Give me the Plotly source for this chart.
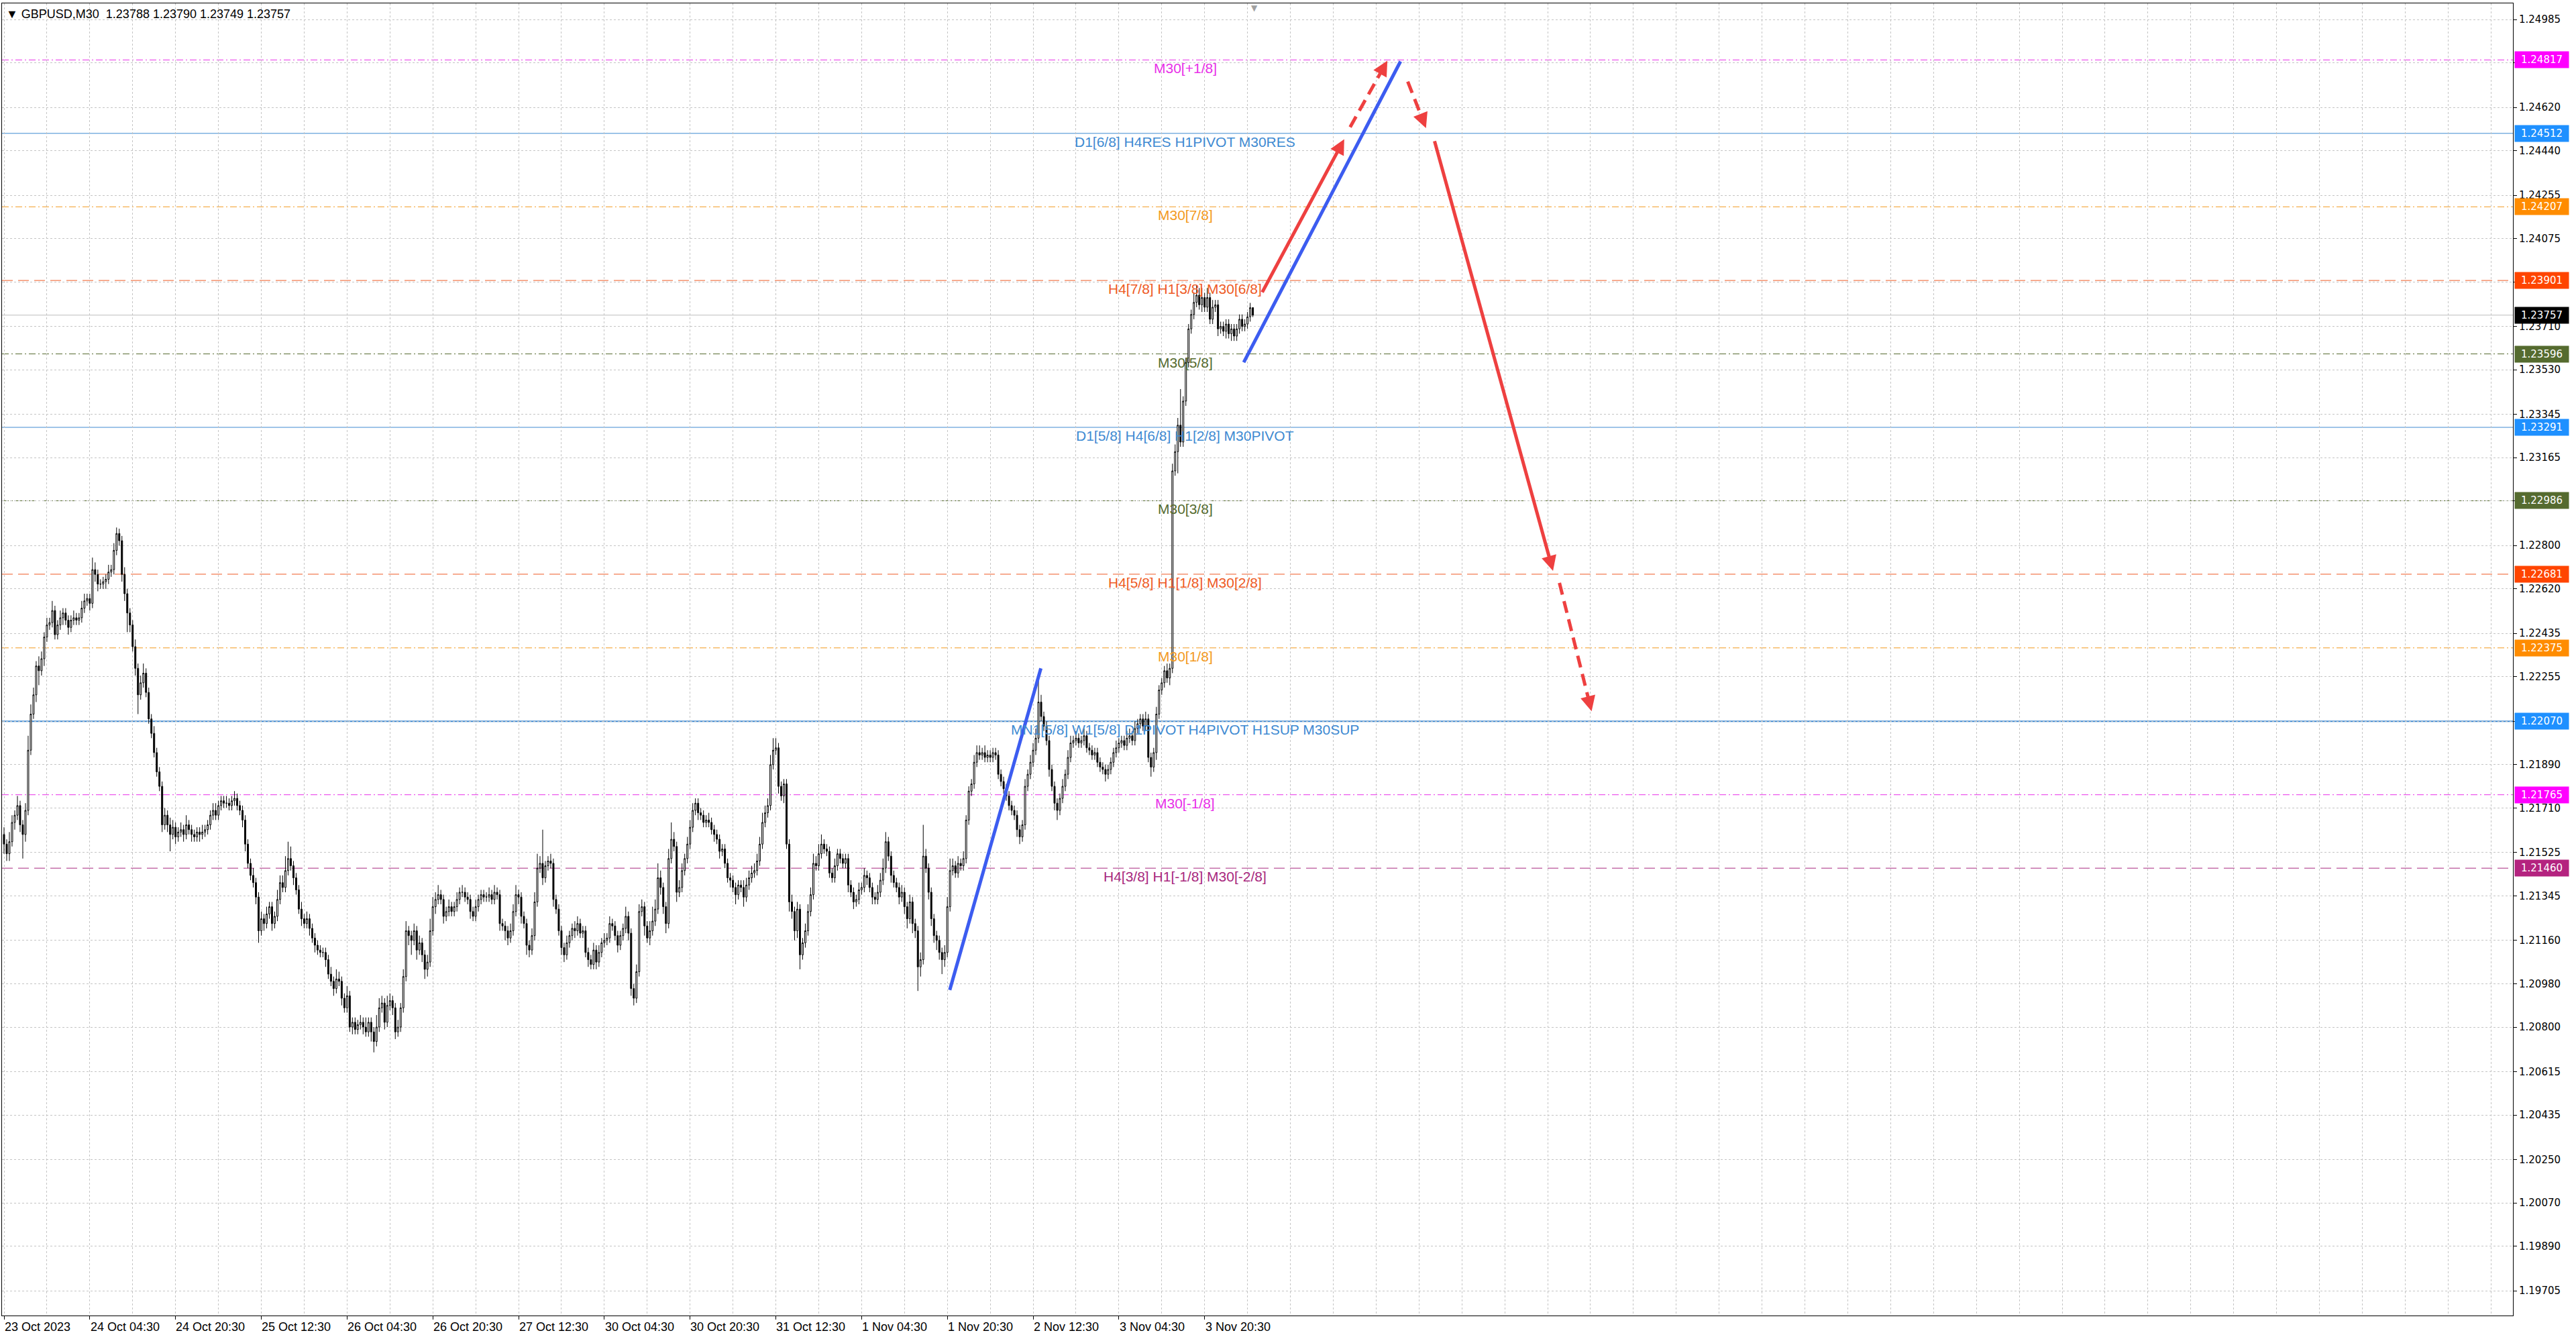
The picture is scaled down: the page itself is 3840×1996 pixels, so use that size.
import plotly.graph_objects as go

# GBPUSD M30 closes, in points (1e-5) above 1.0 ; open of a bar = close of the bar before
first_open = 21600
closes = [
    21560, 21520, 21570, 21650, 21680, 21720, 21640, 21600, 21700, 21950,
    22100, 22180, 22300, 22280, 22330, 22420, 22470, 22480, 22530, 22430,
    22470, 22500, 22520, 22490, 22460, 22490, 22500, 22490, 22500, 22540,
    22570, 22580, 22560, 22700, 22680, 22640, 22640, 22650, 22660, 22690,
    22700, 22780, 22850, 22820, 22680, 22600, 22520, 22470, 22380, 22290,
    22180, 22230, 22270, 22190, 22080, 22020, 21940, 21860, 21800, 21640,
    21680, 21640, 21600, 21630, 21590, 21610, 21620, 21600, 21640, 21620,
    21600, 21590, 21610, 21600, 21610, 21620, 21640, 21680, 21700, 21680,
    21720, 21740, 21730, 21730, 21720, 21740, 21750, 21720, 21700, 21660,
    21560, 21480, 21430, 21400, 21340, 21200, 21250, 21230, 21270, 21300,
    21230, 21260, 21330, 21400, 21380, 21450, 21500, 21470, 21420, 21370,
    21290, 21250, 21230, 21250, 21210, 21170, 21140, 21120, 21110, 21110,
    21080, 21020, 20990, 20960, 21000, 20990, 20920, 20880, 20930, 20800,
    20820, 20790, 20810, 20820, 20800, 20780, 20820, 20780, 20740, 20800,
    20880, 20900, 20820, 20890, 20910, 20880, 20780, 20800, 20880, 21010,
    21200, 21180, 21160, 21200, 21120, 21150, 21100, 21040, 21070, 21200,
    21300, 21330, 21350, 21330, 21260, 21280, 21300, 21280, 21300, 21330,
    21360, 21360, 21340, 21330, 21280, 21260, 21300, 21330, 21350, 21340,
    21340, 21350, 21330, 21360, 21350, 21230, 21220, 21200, 21170, 21200,
    21280, 21350, 21340, 21260, 21230, 21140, 21120, 21180, 21320, 21460,
    21480, 21420, 21470, 21490, 21480, 21330, 21290, 21200, 21130, 21100,
    21150, 21180, 21210, 21200, 21230, 21190, 21200, 21110, 21080, 21060,
    21120, 21070, 21110, 21150, 21160, 21170, 21230, 21220, 21180, 21140,
    21180, 21210, 21260, 21190, 20960, 20920, 21030, 21280, 21300, 21220,
    21170, 21200, 21240, 21290, 21420, 21380, 21300, 21230, 21500, 21580,
    21550, 21360, 21380, 21450, 21500, 21560, 21630, 21700, 21730, 21690,
    21680, 21650, 21660, 21650, 21620, 21600, 21580, 21530, 21540, 21480,
    21420, 21410, 21380, 21350, 21390, 21380, 21340, 21390, 21420, 21440,
    21450, 21490, 21560, 21650, 21690, 21720, 21890, 21950, 21960, 21800,
    21760, 21810, 21560, 21320, 21280, 21200, 21290, 21100, 21150, 21200,
    21280, 21350, 21480, 21470, 21520, 21560, 21540, 21530, 21440, 21420,
    21470, 21520, 21500, 21480, 21500, 21390, 21360, 21320, 21330, 21370,
    21380, 21430, 21420, 21380, 21340, 21330, 21360, 21410, 21460, 21570,
    21510, 21430, 21400, 21380, 21340, 21360, 21300, 21250, 21320, 21230,
    21200, 21050, 21080, 21510, 21460, 21360, 21250, 21180, 21160, 21110,
    21080, 21110, 21300, 21450, 21470, 21440, 21480, 21470, 21500, 21660,
    21780, 21810, 21900, 21940, 21930, 21940, 21920, 21930, 21920, 21940,
    21930, 21850, 21820, 21790, 21760, 21720, 21700, 21680, 21620, 21590,
    21640, 21800, 21850, 21900, 21950, 22000, 22150, 22090, 22050, 21990,
    21870, 21800, 21730, 21700, 21750, 21800, 21850, 21920, 21980, 21990,
    22000, 21980, 21990, 22010, 21960, 21950, 21930, 21940, 21900, 21880,
    21870, 21850, 21870, 21900, 21940, 21960, 21980, 21990, 21970, 22000,
    22010, 21990, 22040, 22060, 22080, 22050, 22080, 21920, 21880, 21940,
    22100, 22200, 22230, 22280, 22250, 22290, 23110, 23190, 23300, 23230,
    23400, 23560, 23700, 23760, 23810, 23840, 23800, 23830, 23790, 23830,
    23740, 23790, 23800, 23700, 23710, 23690, 23720, 23680, 23700, 23670,
    23700, 23740, 23710, 23720, 23750, 23788, 23757,
]
# wick lengths (points) above the body top and below the body bottom
up_wicks = [
    30, 20, 40, 30, 20, 40, 20, 20, 30, 60,
    40, 30, 20, 40, 30, 20, 30, 20, 40, 20,
    20, 30, 20, 20, 20, 20, 30, 20, 20, 30,
    30, 20, 20, 50, 30, 20, 20, 20, 20, 30,
    20, 30, 25, 20, 20, 30, 20, 20, 20, 30,
    20, 30, 40, 20, 20, 20, 30, 20, 20, 20,
    30, 20, 30, 30, 20, 20, 30, 20, 40, 20,
    20, 20, 20, 20, 30, 20, 20, 20, 30, 30,
    20, 20, 20, 30, 20, 20, 30, 20, 20, 20,
    20, 20, 20, 30, 20, 20, 30, 20, 30, 20,
    20, 20, 40, 30, 30, 60, 70, 50, 20, 20,
    20, 30, 20, 30, 20, 20, 20, 20, 20, 20,
    20, 20, 30, 20, 40, 30, 20, 20, 40, 20,
    20, 20, 20, 30, 20, 40, 20, 20, 20, 50,
    40, 30, 20, 40, 30, 20, 20, 30, 20, 30,
    40, 20, 20, 30, 20, 30, 20, 20, 30, 50,
    40, 30, 40, 20, 20, 20, 30, 20, 20, 30,
    20, 30, 20, 20, 20, 20, 30, 20, 20, 20,
    20, 30, 20, 30, 20, 20, 20, 20, 20, 30,
    30, 40, 20, 20, 20, 20, 20, 30, 40, 60,
    30, 140, 20, 20, 30, 20, 20, 20, 20, 20,
    30, 20, 20, 30, 30, 20, 20, 20, 20, 20,
    30, 20, 30, 20, 30, 20, 30, 20, 20, 20,
    20, 20, 40, 20, 20, 20, 30, 30, 30, 20,
    20, 40, 60, 40, 60, 30, 20, 20, 40, 70,
    30, 20, 30, 30, 20, 30, 30, 30, 20, 20,
    20, 20, 20, 30, 20, 20, 20, 20, 20, 20,
    20, 20, 20, 20, 20, 20, 30, 30, 30, 30,
    30, 30, 30, 40, 30, 30, 40, 50, 40, 20,
    20, 20, 20, 20, 30, 20, 30, 20, 20, 30,
    30, 30, 40, 30, 40, 40, 20, 20, 20, 20,
    30, 20, 20, 20, 20, 20, 20, 20, 20, 30,
    20, 30, 20, 20, 20, 20, 30, 30, 40, 40,
    20, 20, 20, 20, 20, 30, 20, 20, 30, 20,
    20, 20, 30, 130, 30, 20, 20, 20, 20, 20,
    20, 30, 40, 50, 30, 20, 30, 20, 30, 20,
    20, 20, 30, 30, 30, 20, 30, 20, 20, 20,
    20, 20, 20, 20, 20, 20, 20, 20, 20, 20,
    20, 30, 20, 30, 30, 40, 100, 30, 20, 20,
    20, 20, 20, 20, 20, 30, 20, 30, 30, 20,
    30, 20, 20, 30, 20, 20, 20, 20, 20, 20,
    20, 20, 20, 20, 20, 30, 20, 20, 20, 30,
    30, 20, 30, 20, 20, 20, 30, 20, 20, 20,
    30, 20, 20, 20, 30, 20, 30, 30, 30, 150,
    20, 20, 20, 20, 40, 40, 30, 40, 20, 40,
    20, 30, 20, 20, 20, 20, 20, 20, 20, 20,
    20, 20, 20, 20, 20, 20, 2,
]
down_wicks = [
    40, 30, 30, 20, 30, 20, 30, 100, 30, 20,
    20, 20, 30, 60, 20, 30, 20, 20, 20, 20,
    20, 20, 30, 20, 30, 20, 20, 20, 20, 20,
    20, 20, 30, 20, 30, 30, 20, 20, 30, 20,
    20, 20, 20, 20, 30, 30, 80, 30, 20, 30,
    80, 20, 20, 20, 20, 20, 20, 20, 20, 30,
    20, 30, 70, 20, 30, 20, 20, 30, 20, 20,
    30, 20, 20, 30, 20, 20, 20, 20, 20, 20,
    20, 20, 20, 20, 20, 20, 20, 20, 20, 30,
    30, 20, 20, 20, 30, 50, 20, 30, 20, 20,
    30, 20, 20, 20, 20, 20, 20, 20, 30, 20,
    20, 30, 20, 20, 30, 20, 30, 20, 20, 20,
    30, 20, 20, 30, 20, 20, 30, 20, 20, 20,
    30, 20, 20, 20, 30, 20, 20, 40, 45, 20,
    20, 20, 30, 20, 20, 30, 30, 20, 20, 20,
    20, 40, 60, 20, 40, 20, 30, 40, 30, 20,
    20, 30, 20, 20, 30, 20, 20, 20, 20, 20,
    20, 20, 20, 20, 30, 20, 20, 20, 20, 20,
    20, 20, 20, 20, 20, 30, 20, 40, 30, 20,
    20, 20, 30, 30, 20, 40, 30, 20, 20, 20,
    20, 30, 20, 20, 20, 30, 20, 20, 30, 30,
    20, 20, 20, 30, 20, 20, 20, 20, 30, 20,
    20, 30, 20, 20, 20, 20, 20, 20, 20, 30,
    20, 20, 20, 30, 30, 30, 20, 20, 20, 40,
    20, 30, 20, 20, 20, 30, 30, 40, 20, 20,
    20, 40, 20, 20, 20, 20, 20, 20, 20, 30,
    20, 20, 20, 20, 20, 30, 20, 30, 20, 20,
    20, 30, 20, 40, 20, 20, 40, 20, 20, 20,
    20, 20, 20, 20, 20, 20, 20, 20, 20, 30,
    20, 30, 20, 40, 30, 40, 30, 60, 20, 20,
    20, 20, 20, 20, 20, 20, 20, 20, 20, 20,
    20, 20, 20, 20, 20, 30, 20, 30, 20, 20,
    20, 20, 30, 20, 30, 20, 20, 20, 20, 20,
    20, 30, 20, 20, 30, 20, 30, 40, 20, 40,
    30, 100, 40, 20, 20, 30, 30, 30, 40, 30,
    60, 30, 20, 20, 20, 20, 20, 20, 20, 20,
    20, 20, 20, 20, 20, 20, 20, 20, 20, 20,
    20, 20, 20, 20, 20, 20, 20, 20, 30, 30,
    20, 20, 20, 20, 20, 20, 20, 20, 20, 20,
    30, 20, 30, 40, 20, 20, 20, 20, 20, 20,
    20, 20, 20, 20, 20, 20, 20, 20, 20, 20,
    20, 30, 20, 20, 20, 20, 20, 20, 20, 20,
    20, 20, 20, 20, 20, 20, 20, 20, 40, 20,
    30, 20, 20, 20, 20, 30, 20, 20, 90, 20,
    20, 20, 20, 20, 20, 20, 20, 30, 20, 20,
    20, 20, 20, 30, 20, 20, 30, 20, 30, 20,
    20, 20, 20, 20, 20, 20, 8,
]

date_bars = [0, 32, 64, 96, 128, 160, 192, 224, 256, 288, 320, 352, 384, 416, 448]
date_labels = ["23 Oct 2023", "24 Oct 04:30", "24 Oct 20:30", "25 Oct 12:30", "26 Oct 04:30",
               "26 Oct 20:30", "27 Oct 12:30", "30 Oct 04:30", "30 Oct 20:30", "31 Oct 12:30",
               "1 Nov 04:30", "1 Nov 20:30", "2 Nov 12:30", "3 Nov 04:30", "3 Nov 20:30"]

price_ticks = [1.24985, 1.24805, 1.24620, 1.24440, 1.24255, 1.24075, 1.23895, 1.23710, 1.23530,
               1.23345, 1.23165, 1.22985, 1.22800, 1.22620, 1.22435, 1.22255, 1.22070, 1.21890,
               1.21710, 1.21525, 1.21345, 1.21160, 1.20980, 1.20800, 1.20615, 1.20435, 1.20250,
               1.20070, 1.19890, 1.19705]
hidden_ticks = [1.24805, 1.23895, 1.22985, 1.22070]   # covered by the level boxes

level_prices = [1.24817, 1.24512, 1.24207, 1.23901, 1.23596, 1.23291, 1.22986, 1.22681,
                1.22375, 1.22070, 1.21765, 1.21460]
level_texts = ["M30[+1/8]", "D1[6/8] H4RES H1PIVOT M30RES", "M30[7/8]", "H4[7/8] H1[3/8] M30[6/8]",
               "M30[5/8]", "D1[5/8] H4[6/8] H1[2/8] M30PIVOT", "M30[3/8]", "H4[5/8] H1[1/8] M30[2/8]",
               "M30[1/8]", "MN1[5/8] W1[5/8] D1PIVOT H4PIVOT H1SUP M30SUP", "M30[-1/8]",
               "H4[3/8] H1[-1/8] M30[-2/8]"]
level_kinds = ["mag", "blue", "orange", "red", "olive", "blue", "olive", "red",
               "orange", "blue_main", "mag", "violet"]
last_price = 1.23757
title_text = "▼ GBPUSD,M30\u00a0\u00a01.23788 1.23790 1.23749 1.23757"

# hand drawn forecast strokes: (bar, price) start -> end
blue_x = [[352.9, 386.9], [462.6, 521.1]]
blue_y = [[1.20954, 1.22290], [1.23561, 1.24811]]
red_x = [[469.5, 500.1], [502.3, 516.2], [523.8, 530.6], [533.8, 578.0], [580.4, 592.4]]
red_y = [[1.23852, 1.24488], [1.24538, 1.24814], [1.24727, 1.24534], [1.24480, 1.22695], [1.22645, 1.22112]]
red_dashed = [False, True, True, False, True]

# styles
kind_style = {
    "mag":       dict(line="#E830E8", box="#FF00FF", dash="10px,4px,2px,4px", width=1),
    "blue":      dict(line="#3E8AD2", box="#1E90FF", dash="solid", width=1),
    "blue_main": dict(line="#3E8AD2", box="#1E90FF", dash="solid", width=2),
    "orange":    dict(line="#F39A1E", box="#FF8C00", dash="10px,4px,2px,4px", width=1),
    "red":       dict(line="#EE5A24", box="#FF4500", dash="16px,8px", width=1),
    "olive":     dict(line="#556B2F", box="#556B2F", dash="10px,4px,2px,4px", width=1),
    "violet":    dict(line="#A8287E", box="#B4237F", dash="16px,8px", width=1),
}
W, H = 3840, 1996
ML, MR, MT, MB = 3, 94, 5, 35
x_range = [-0.75, 936.2]
y_range = [1.19602, 1.25052]
grid_col = "#C4C4C4"
label_bar = 440.8

px_per_bar = (W - ML - MR) / (x_range[1] - x_range[0])
px_per_price = (H - MT - MB) / (y_range[1] - y_range[0])

opens = [first_open] + closes[:-1]
highs = [max(o, c) + u for o, c, u in zip(opens, closes, up_wicks)]
lows = [min(o, c) - d for o, c, d in zip(opens, closes, down_wicks)]
to_price = lambda v: [1 + p / 100000 for p in v]
bars = list(range(len(closes)))

fig = go.Figure()
fig.add_trace(go.Candlestick(
    x=bars, open=to_price(opens), high=to_price(highs), low=to_price(lows), close=to_price(closes),
    increasing=dict(line=dict(color="black", width=1), fillcolor="white"),
    decreasing=dict(line=dict(color="black", width=1), fillcolor="black"),
    whiskerwidth=0, hoverinfo="skip", showlegend=False))

annotations = []
shapes = []
for price, text, kind in zip(level_prices, level_texts, level_kinds):
    st = kind_style[kind]
    shapes.append(dict(type="line", xref="paper", x0=0, x1=1, yref="y", y0=price, y1=price,
                       line=dict(color=st["line"], width=st["width"], dash=st["dash"]), layer="between"))
    annotations.append(dict(x=label_bar, y=price, xref="x", yref="y", text=text, showarrow=False,
                            xanchor="center", yanchor="top", yshift=1,
                            font=dict(family="Liberation Sans", size=21, color=st["line"])))
    annotations.append(dict(x=1, y=price, xref="paper", yref="y", text=f"{price:.5f}", showarrow=False,
                            xanchor="left", yanchor="middle", xshift=2, width=74, align="center",
                            bgcolor=st["box"], borderpad=3,
                            font=dict(family="DejaVu Sans", size=15, color="white")))

shapes.append(dict(type="line", xref="paper", x0=0, x1=1, yref="y", y0=last_price, y1=last_price,
                   line=dict(color="#BDBDBD", width=1), layer="between"))
annotations.append(dict(x=1, y=last_price, xref="paper", yref="y", text=f"{last_price:.5f}", showarrow=False,
                        xanchor="left", yanchor="middle", xshift=2, width=74, align="center",
                        bgcolor="black", borderpad=3,
                        font=dict(family="DejaVu Sans", size=15, color="white")))

for b, lab in zip(date_bars, date_labels):
    annotations.append(dict(x=b - 0.3, y=0, xref="x", yref="paper", text=lab, showarrow=False,
                            xanchor="left", yanchor="top", yshift=-5,
                            font=dict(family="Liberation Sans", size=18, color="black")))

annotations.append(dict(x=0, y=1, xref="paper", yref="paper", text=title_text, showarrow=False,
                        xanchor="left", yanchor="top", xshift=4, yshift=-4,
                        font=dict(family="Liberation Sans", size=18, color="black")))
annotations.append(dict(x=len(closes) - 0.5, y=1, xref="x", yref="paper", text="▼", showarrow=False,
                        xanchor="center", yanchor="top", yshift=2,
                        font=dict(family="DejaVu Sans", size=12, color="#A0A0A0")))

for xs, ys in zip(blue_x, blue_y):
    fig.add_trace(go.Scatter(x=xs, y=ys, mode="lines", line=dict(color="#3C5CF0", width=5),
                             hoverinfo="skip", showlegend=False))

head_px = 22
for xs, ys, dashed in zip(red_x, red_y, red_dashed):
    dxp = (xs[1] - xs[0]) * px_per_bar
    dyp = (ys[1] - ys[0]) * px_per_price
    length = (dxp ** 2 + dyp ** 2) ** 0.5
    f = head_px / length
    tail_x = xs[1] - f * (xs[1] - xs[0])
    tail_y = ys[1] - f * (ys[1] - ys[0])
    fig.add_trace(go.Scatter(x=[xs[0], tail_x], y=[ys[0], tail_y], mode="lines",
                             line=dict(color="#EE4040", width=5, dash="18px,10px" if dashed else "solid"),
                             hoverinfo="skip", showlegend=False))
    annotations.append(dict(x=xs[1], y=ys[1], xref="x", yref="y", ax=tail_x, ay=tail_y,
                            axref="x", ayref="y", text="", showarrow=True, arrowhead=2,
                            arrowsize=0.9, arrowwidth=5, arrowcolor="#EE4040", standoff=0))

tick_text = ["" if t in hidden_ticks else f"{t:.5f}" for t in price_ticks]

fig.update_layout(
    width=W, height=H, margin=dict(l=ML, r=MR, t=MT, b=MB),
    paper_bgcolor="white", plot_bgcolor="white", showlegend=False,
    shapes=shapes, annotations=annotations,
    xaxis=dict(range=x_range, tickmode="array", tickvals=date_bars, showticklabels=False,
               ticks="outside", ticklen=5, tickcolor="black",
               showgrid=True, gridcolor=grid_col, griddash="3px,3px", gridwidth=1,
               minor=dict(tickmode="linear", tick0=0, dtick=16, showgrid=True, gridcolor=grid_col,
                          griddash="3px,3px", gridwidth=1, ticks=""),
               showline=True, linecolor="black", linewidth=1, mirror=True, zeroline=False,
               rangeslider=dict(visible=False), fixedrange=True),
    yaxis=dict(range=y_range, side="right", tickmode="array", tickvals=price_ticks, ticktext=tick_text,
               tickfont=dict(family="DejaVu Sans", size=15, color="black"),
               ticks="outside", ticklen=5, tickcolor="black",
               showgrid=True, gridcolor=grid_col, griddash="3px,3px", gridwidth=1,
               showline=True, linecolor="black", linewidth=1, mirror=True, zeroline=False,
               fixedrange=True),
)

fig.write_html("out.html", config={"displayModeBar": False},
               post_script="document.body.style.margin='0';document.body.style.overflow='hidden';")
